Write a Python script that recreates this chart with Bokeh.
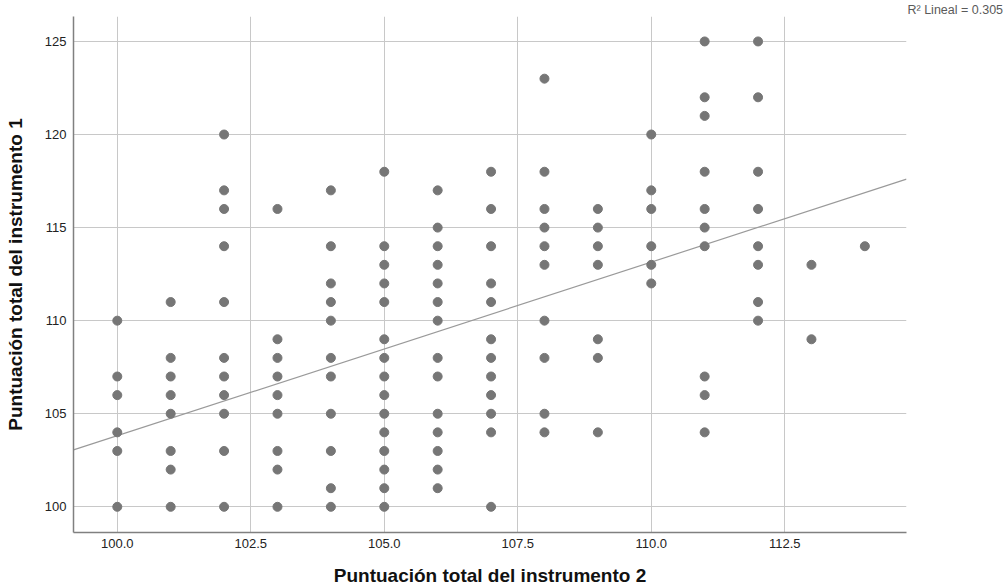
from bokeh.plotting import figure
from bokeh.models import FixedTicker, NumeralTickFormatter, Title, ColumnDataSource
from bokeh.embed import file_html
from bokeh.resources import INLINE

# Puntuación total del instrumento 2 (x) -> observed values of instrumento 1 (y)
x_levels = [100, 101, 102, 103, 104, 105, 106, 107, 108, 109, 110, 111, 112, 113, 114]
y_at_100 = [110, 107, 106, 104, 103, 100]
y_at_101 = [111, 108, 107, 106, 105, 103, 102, 100]
y_at_102 = [120, 117, 116, 114, 111, 108, 107, 106, 105, 103, 100]
y_at_103 = [116, 109, 108, 107, 106, 105, 103, 102, 100]
y_at_104 = [117, 114, 112, 111, 110, 108, 107, 105, 103, 101, 100]
y_at_105 = [118, 114, 113, 112, 111, 109, 108, 107, 106, 105, 104, 103, 102, 101, 100]
y_at_106 = [117, 115, 114, 113, 112, 111, 110, 108, 107, 105, 104, 103, 102, 101]
y_at_107 = [118, 116, 114, 112, 111, 109, 108, 107, 106, 105, 104, 100]
y_at_108 = [123, 118, 116, 115, 114, 113, 110, 108, 105, 104]
y_at_109 = [116, 115, 114, 113, 109, 108, 104]
y_at_110 = [120, 117, 116, 114, 113, 112]
y_at_111 = [125, 122, 121, 118, 116, 115, 114, 107, 106, 104]
y_at_112 = [125, 122, 118, 116, 114, 113, 111, 110]
y_at_113 = [113, 109]
y_at_114 = [114]
y_columns = [y_at_100, y_at_101, y_at_102, y_at_103, y_at_104, y_at_105, y_at_106,
             y_at_107, y_at_108, y_at_109, y_at_110, y_at_111, y_at_112, y_at_113, y_at_114]

x_ticks = [100.0, 102.5, 105.0, 107.5, 110.0, 112.5]
y_ticks = [100, 105, 110, 115, 120, 125]

fit_intercept = 10.57
fit_slope = 0.9325
r2_text = "R\u00b2 Lineal = 0.305"

x_title = "Puntuación total del instrumento 2"
y_title = "Puntuación total del instrumento 1"

xs, ys = [], []
for xv, col in zip(x_levels, y_columns):
    for yv in col:
        xs.append(xv)
        ys.append(yv)
src = ColumnDataSource(dict(x=xs, y=ys))

X0, X1 = 99.18, 114.78
Y0, Y1 = 98.62, 126.34

BL, BR, BT, BB = 73, 102, 16, 56
FW = 1008 - BL - BR

p = figure(width=1008, height=588, output_backend="svg", toolbar_location=None,
           x_range=(X0, X1), y_range=(Y0, Y1),
           min_border_left=BL, min_border_right=BR, min_border_top=BT, min_border_bottom=BB)
p.outline_line_color = None
p.background_fill_color = "white"
p.border_fill_color = "white"

for ax in (p.xaxis[0], p.yaxis[0]):
    ax.major_tick_line_color = None
    ax.minor_tick_line_color = None
    ax.major_tick_out = 0
    ax.major_tick_in = 0
    ax.minor_tick_out = 0
    ax.minor_tick_in = 0
    ax.axis_line_color = "#808080"
    ax.axis_line_width = 1.5
    ax.major_label_text_font = "Liberation Sans"
    ax.major_label_text_font_size = "13px"
    ax.major_label_text_color = "#222222"
    ax.axis_label_text_font = "Liberation Sans"
    ax.axis_label_text_font_size = "19px"
    ax.axis_label_text_font_style = "bold"
    ax.axis_label_text_color = "#111111"

p.xaxis.ticker = FixedTicker(ticks=x_ticks)
p.yaxis.ticker = FixedTicker(ticks=y_ticks)
p.xaxis.formatter = NumeralTickFormatter(format="0.0")
p.yaxis.formatter = NumeralTickFormatter(format="0")
p.xaxis.axis_label = x_title
p.yaxis.axis_label = y_title
p.xaxis.major_label_standoff = 6
p.yaxis.major_label_standoff = 7
p.xaxis.axis_label_standoff = 14
p.yaxis.axis_label_standoff = 16

p.xgrid.ticker = FixedTicker(ticks=x_ticks)
p.ygrid.ticker = FixedTicker(ticks=y_ticks)
p.grid.grid_line_color = "#c8c8c8"
p.grid.grid_line_width = 1

# linear fit line across the whole frame
p.line([X0, X1], [fit_intercept + fit_slope * X0, fit_intercept + fit_slope * X1],
       line_color="#9a9a9a", line_width=1.2)

p.scatter("x", "y", source=src, size=9, fill_color="#767676", line_color="#767676")

# R² note, to the right of the frame's top edge
p.add_layout(Title(text=r2_text, align="left", offset=FW + 1, standoff=0,
                   text_font="Liberation Sans", text_font_size="12.5px",
                   text_font_style="normal", text_color="#5a5a5a",
                   vertical_align="bottom"), "above")

open("out.html", "w").write(file_html(p, INLINE))
